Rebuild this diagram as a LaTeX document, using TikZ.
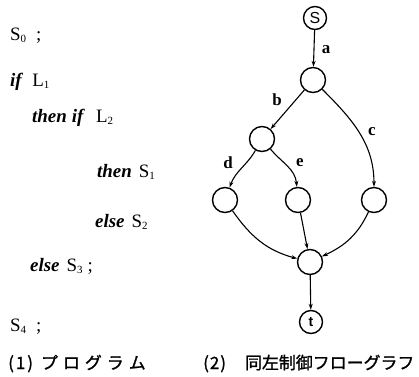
\documentclass[tikz,border=0pt]{standalone}
\usepackage{fontspec}
\setmainfont{Liberation Serif}
\newfontfamily\cjk[FakeBold=1.2]{Noto Sans CJK JP}
\newfontfamily\lblfont{Liberation Sans}
\usetikzlibrary{arrows.meta}
\newcommand{\kw}[1]{\textbf{\textit{#1}}}
\newcommand{\mysub}[1]{\raisebox{-0.3ex}{\fontsize{11}{11}\selectfont #1}}
\begin{document}
\begin{tikzpicture}[x=1bp,y=-1bp,
  vtx/.style={circle,draw,line width=1.4pt,inner sep=0pt,minimum size=25bp},
  termv/.style={vtx,minimum size=23bp,font=\lblfont\fontsize{16}{16}\selectfont},
  edge/.style={line width=1.1pt,-{Stealth[length=6pt,width=4pt]}},
  lbl/.style={inner sep=0pt,font=\fontsize{17}{17}\bfseries\selectfont},
  prog/.style={anchor=base west,inner sep=0pt,font=\fontsize{19}{19}\selectfont},
  capt/.style={anchor=base west,inner sep=0pt,font=\cjk\fontsize{17}{17}\selectfont}]
\useasboundingbox (0,0) rectangle (419,377);
% program text
\node[prog] (p0) at (10,40) {S\mysub{0}\kern10bp;};
\node[prog] (p1) at (10,86) {\kw{if}\kern9bp L\mysub{1}};
\node[prog] (p2) at (32,122) {\kw{then}\kern5bp\kw{if}\kern11bp L\mysub{2}};
\node[prog] (p3) at (97,177) {\kw{then}\kern7bp S\mysub{1}};
\node[prog] (p4) at (95,227) {\kw{else}\kern7bp S\mysub{2}};
\node[prog] (p5) at (30,271) {\kw{else}\kern7bp S\mysub{3}\kern5bp;};
\node[prog] (p6) at (10,331) {S\mysub{4}\kern10bp;};
% captions
\node[capt] (c1) at (8,369) {(\kern2bp 1\kern2bp)\kern8bp プ\kern5bp ロ\kern5bp グ\kern5bp ラ\kern5bp ム};
\node[capt] (c2) at (203,369) {(\kern1bp 2\kern1bp)\kern19bp 同左制御フローグラフ};
% graph
\node[termv] (s) at (315,18) {S};
\node[vtx] (a) at (313,80) {};
\node[vtx] (b) at (262,139) {};
\node[vtx] (d) at (225,200) {};
\node[vtx] (e) at (298,200) {};
\node[vtx] (r) at (374,200) {};
\node[vtx] (m) at (310,262) {};
\node[termv,font=\lblfont\bfseries\fontsize{14}{14}\selectfont] (t) at (311,322) {t};
\draw[edge] (s) -- (a);
\draw[edge] (a) -- (b);
\draw[edge] (a) to[out=-45,in=90] (r);
\draw[edge] (b) to[out=-120,in=70] (d);
\draw[edge] (b) to[out=-50,in=95] (e);
\draw[edge] (d) to[out=-55,in=165] (m);
\draw[edge] (e) -- (m);
\draw[edge] (r) to[out=-115,in=25] (m);
\draw[edge] (m) -- (t);
\node[lbl] (la) at (326,50) {a};
\node[lbl] (lb) at (277,100) {b};
\node[lbl] (lc) at (372,132) {c};
\node[lbl] (ld) at (228,163) {d};
\node[lbl] (le) at (300,163) {e};
\end{tikzpicture}
\end{document}
